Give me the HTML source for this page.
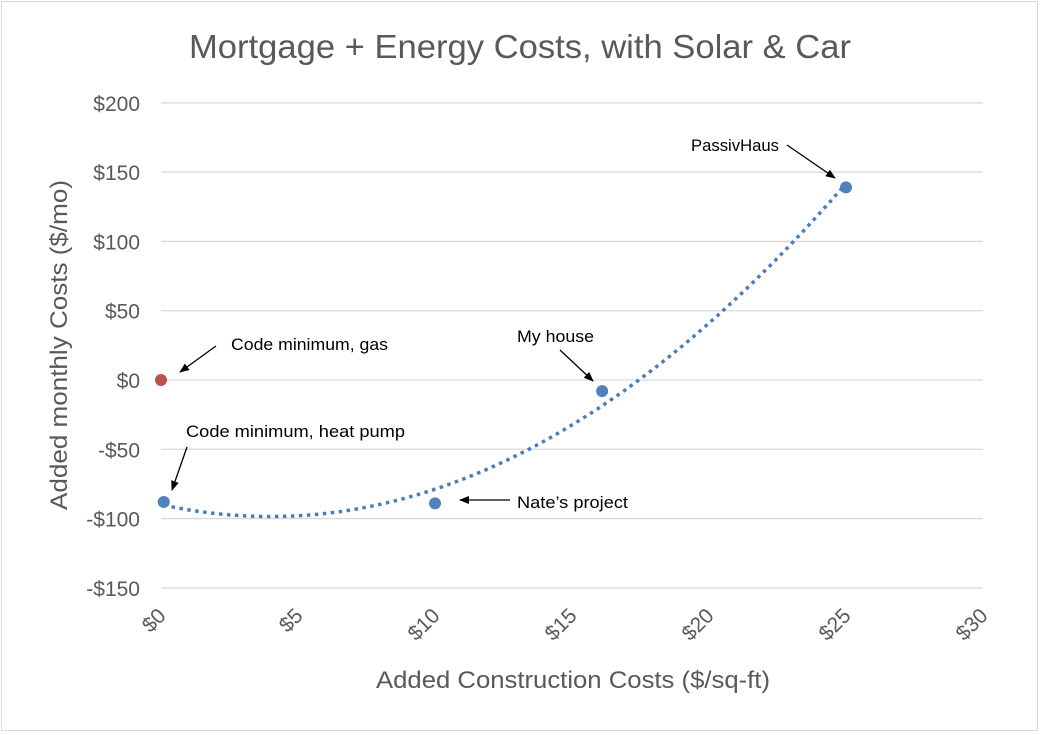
<!DOCTYPE html>
<html><head><meta charset="utf-8"><style>
body{margin:0;background:#fff;}
svg{display:block;font-family:"Liberation Sans",Calibri,sans-serif;}
</style></head><body>
<svg width="1041" height="735">
<defs><marker id="ah" markerWidth="10" markerHeight="8" refX="9" refY="4" orient="auto" markerUnits="userSpaceOnUse"><path d="M0,0 L10,4 L0,8 z" fill="#000"/></marker></defs>
<rect x="1.5" y="1.5" width="1036" height="729" fill="#fff" stroke="#d9d9d9"/>
<text x="520" y="58" text-anchor="middle" font-size="33" textLength="662" lengthAdjust="spacingAndGlyphs" fill="#595959">Mortgage + Energy Costs, with Solar &amp; Car</text>
<g id="grid"></g><g id="yt"></g><g id="xt"></g><g id="trend"></g><g id="pts"></g>
<text transform="translate(67,345) rotate(-90)" text-anchor="middle" font-size="24" textLength="330" lengthAdjust="spacingAndGlyphs" fill="#595959">Added monthly Costs ($/mo)</text>
<text x="573" y="688" text-anchor="middle" font-size="24" textLength="394" lengthAdjust="spacingAndGlyphs" fill="#595959">Added Construction Costs ($/sq-ft)</text>
<g font-size="17" fill="#000" stroke="none">
<text x="231" y="350" textLength="157" lengthAdjust="spacingAndGlyphs">Code minimum, gas</text>
<text x="186" y="437" textLength="219" lengthAdjust="spacingAndGlyphs">Code minimum, heat pump</text>
<text x="517" y="508" textLength="111" lengthAdjust="spacingAndGlyphs">Nate’s project</text>
<text x="517" y="342" textLength="77" lengthAdjust="spacingAndGlyphs">My house</text>
<text x="691" y="151" textLength="88" lengthAdjust="spacingAndGlyphs">PassivHaus</text>
</g>
<g stroke="#000" stroke-width="1.3" marker-end="url(#ah)">
<line x1="216" y1="346" x2="180" y2="372"/>
<line x1="187" y1="447" x2="172" y2="490"/>
<line x1="510" y1="500" x2="460" y2="500"/>
<line x1="560" y1="350" x2="593" y2="381"/>
<line x1="787" y1="145" x2="835" y2="178"/>
</g>
</svg>
<script>
const xTicks=[0,5,10,15,20,25,30];
const yTicks=[200,150,100,50,0,-50,-100,-150];
const blueX=[0.1,10,16.1,25.0];
const blueY=[-88,-89,-8,139];
const redX=[0];
const redY=[0];
const NS="http://www.w3.org/2000/svg";
function X(v){return 161+v*(983-161)/30;}
function Y(v){return 380-v*(588-103)/350;}
function mk(t,a,p){const e=document.createElementNS(NS,t);for(const k in a)e.setAttribute(k,a[k]);if(p)document.getElementById(p).appendChild(e);return e;}
yTicks.forEach(v=>{
 const l=mk('line',{x1:X(0),x2:X(30),y1:Y(v),y2:Y(v),stroke:'#d9d9d9','stroke-width':1.3},'grid');
 
 
 const t=mk('text',{x:140,y:Y(v)+8,'text-anchor':'end','font-size':21,fill:'#595959'},'yt');
 t.textContent=(v<0?'-$':'$')+Math.abs(v);
 
 
});
xTicks.forEach(v=>{
 const t=mk('text',{transform:`translate(${X(v)+6},617) rotate(-45)`,'text-anchor':'end','font-size':21,fill:'#595959'},'xt');
 t.textContent='$'+v;
 
 
});
(function(){
 let S=[0,0,0,0,0],T=[0,0,0];
 for(let i=0;i<blueX.length;i++){let x=blueX[i],y=blueY[i];for(let k=0;k<5;k++)S[k]+=Math.pow(x,k);for(let k=0;k<3;k++)T[k]+=y*Math.pow(x,k);}
 const A=[[S[0],S[1],S[2],T[0]],[S[1],S[2],S[3],T[1]],[S[2],S[3],S[4],T[2]]];
 for(let i=0;i<3;i++){for(let j=i+1;j<3;j++){const f=A[j][i]/A[i][i];for(let k=i;k<4;k++)A[j][k]-=f*A[i][k];}}
 const c=[0,0,0];for(let i=2;i>=0;i--){let s=A[i][3];for(let k=i+1;k<3;k++)s-=A[i][k]*c[k];c[i]=s/A[i][i];}
 const x0=Math.min(...blueX),x1=Math.max(...blueX);let d='';
 for(let i=0;i<=100;i++){const x=x0+(x1-x0)*i/100,y=c[0]+c[1]*x+c[2]*x*x;d+=(i?'L':'M')+X(x).toFixed(1)+','+Y(y).toFixed(1);}
 const p=mk('path',{d:d,fill:'none',stroke:'#4a7ebb','stroke-width':3.5,'stroke-dasharray':'3.5 4.5','stroke-linecap':'butt'},'trend');
 
 
})();
blueX.forEach((x,i)=>{
 const c=mk('circle',{cx:X(x),cy:Y(blueY[i]),r:6,fill:'#4f81bd'},'pts');
 
 
});
redX.forEach((x,i)=>{
 const c=mk('circle',{cx:X(x),cy:Y(redY[i]),r:6,fill:'#c0504d'},'pts');
 
 
});
</script>
</body></html>
